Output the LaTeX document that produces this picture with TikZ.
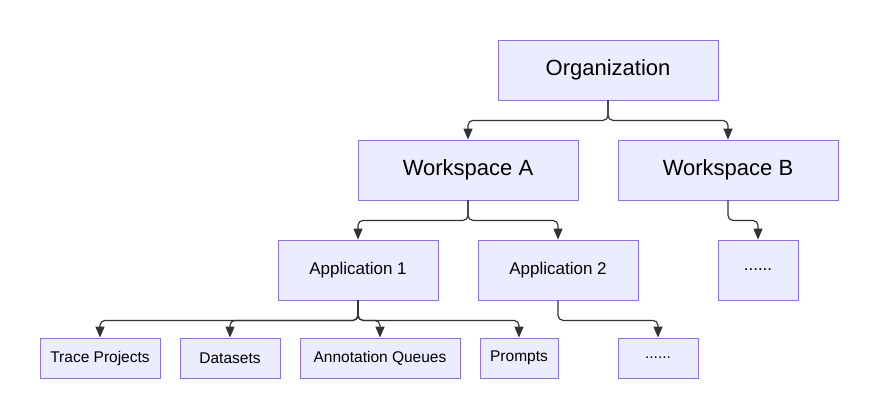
\documentclass[tikz,border=0pt]{standalone}
\usepackage{fontspec}
\setmainfont{Liberation Sans}
\usetikzlibrary{arrows.meta}
\definecolor{boxfill}{HTML}{ECECFF}
\definecolor{boxline}{HTML}{9370DB}
\definecolor{linkcol}{HTML}{333333}

\begin{document}
\begin{tikzpicture}[x=1pt,y=-1pt,
    box/.style={draw=boxline,fill=boxfill,line width=0.8pt,inner sep=0pt},
    big/.style={box,minimum width=220pt,minimum height=60pt,font=\fontsize{22}{26}\selectfont},
    mid/.style={box,minimum height=60pt,font=\fontsize{17}{20}\selectfont},
    small/.style={box,minimum height=40pt,font=\fontsize{15.5}{18}\selectfont},
    link/.style={draw=linkcol,line width=1.2pt,rounded corners=5pt,-{Triangle[length=11pt,width=9pt]}}]
    \useasboundingbox (0,0) rectangle (878,420);

    \node[big] (org) at (608,70) {Organization};
    \node[big] (wsa) at (468,170) {Workspace A};
    \node[big] (wsb) at (728,170) {Workspace B};
    \node[mid,minimum width=160pt] (app1) at (358,270) {Application 1};
    \node[mid,minimum width=160pt] (app2) at (558,270) {Application 2};
    \node[mid,minimum width=80pt] (moreb) at (758,270) {......};
    \node[small,minimum width=120pt] (trace) at (100,358) {Trace Projects};
    \node[small,minimum width=100pt] (data) at (230,358) {Datasets};
    \node[small,minimum width=160pt] (queue) at (380,358) {Annotation Queues};
    \node[small,minimum width=78pt] (prompt) at (519,358) {Prompts};
    \node[small,minimum width=80pt] (morea) at (658,358) {......};

    % connectors
    \draw[link] (org.south) -- ++(0,20) -| (wsa.north);
    \draw[link] (org.south) -- ++(0,20) -| (wsb.north);
    \draw[link] (wsa.south) -- ++(0,20) -| (app1.north);
    \draw[link] (wsa.south) -- ++(0,20) -| (app2.north);
    \draw[link] (wsb.south) -- ++(0,20) -| (moreb.north);
    \foreach \t in {trace,data,queue,prompt}
        \draw[link] (app1.south) -- ++(0,20) -| (\t.north);
    \draw[link] (app2.south) -- ++(0,20) -| (morea.north);
\end{tikzpicture}
\end{document}
